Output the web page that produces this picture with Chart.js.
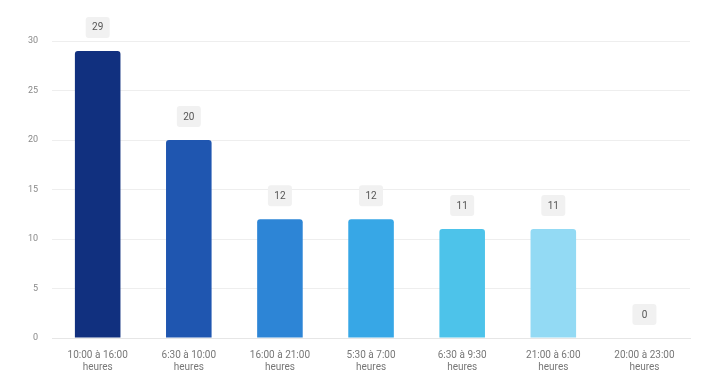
<!DOCTYPE html>
<html>
<head>
<meta charset="utf-8">
<script src="https://cdn.jsdelivr.net/npm/chart.js@4.4.0/dist/chart.umd.min.js"></script>
<style>
  html, body { margin: 0; padding: 0; background: #ffffff; }
  #wrap { width: 702px; height: 385px; position: relative; }
</style>
</head>
<body>
<div id="wrap"><canvas id="chart"></canvas></div>
<script>
// Tranches horaires et effectifs
const categories = [
    ['10:00 à 16:00', 'heures'],
    ['6:30 à 10:00', 'heures'],
    ['16:00 à 21:00', 'heures'],
    ['5:30 à 7:00', 'heures'],
    ['6:30 à 9:30', 'heures'],
    ['21:00 à 6:00', 'heures'],
    ['20:00 à 23:00', 'heures']
];
const counts = [29, 20, 12, 12, 11, 11, 0];
const barColors = ['#11307f', '#1f56b0', '#2d85d6', '#37a7e6', '#4dc3ea', '#93daf4', '#c9ecfa'];
const yTicks = [0, 5, 10, 15, 20, 25, 30];

// Little grey boxes with the value above each bar
const valueBoxes = {
    id: 'valueBoxes',
    afterDatasetsDraw(chart) {
        const ctx = chart.ctx;
        const meta = chart.getDatasetMeta(0);
        ctx.save();
        ctx.font = '10px Roboto';
        ctx.textAlign = 'center';
        ctx.textBaseline = 'middle';
        meta.data.forEach((bar, i) => {
            const txt = String(counts[i]);
            const w = 24, h = 21;
            const cx = bar.x;
            const cy = bar.y - 13 - h / 2;
            ctx.fillStyle = '#f1f1f1';
            ctx.beginPath();
            ctx.roundRect(cx - w / 2, cy - h / 2, w, h, 3);
            ctx.fill();
            ctx.fillStyle = '#555555';
            ctx.fillText(txt, cx, cy + 0.5);
        });
        ctx.restore();
    }
};

new Chart(document.getElementById('chart'), {
    type: 'bar',
    data: {
        labels: categories,
        datasets: [{
            data: counts,
            backgroundColor: barColors,
            borderRadius: 3,
            borderSkipped: 'bottom',
            barPercentage: 0.5,
            categoryPercentage: 1.0
        }]
    },
    options: {
        responsive: true,
        maintainAspectRatio: false,
        animation: false,
        layout: { padding: { top: 41, right: 12, left: 14, bottom: 9 } },
        plugins: {
            legend: { display: false },
            tooltip: { enabled: false }
        },
        scales: {
            x: {
                grid: { display: false },
                border: { color: '#e6e6e6' },
                ticks: {
                    color: '#777777',
                    font: { family: 'Roboto', size: 10 },
                    maxRotation: 0,
                    autoSkip: false
                }
            },
            y: {
                min: 0,
                max: 30,
                afterBuildTicks: axis => { axis.ticks = yTicks.map(v => ({ value: v })); },
                grid: { color: '#eeeeee', drawTicks: false },
                border: { display: false },
                ticks: {
                    color: '#888888',
                    padding: 14,
                    font: { family: 'Roboto', size: 9 }
                }
            }
        }
    },
    plugins: [valueBoxes]
});
</script>
</body>
</html>
